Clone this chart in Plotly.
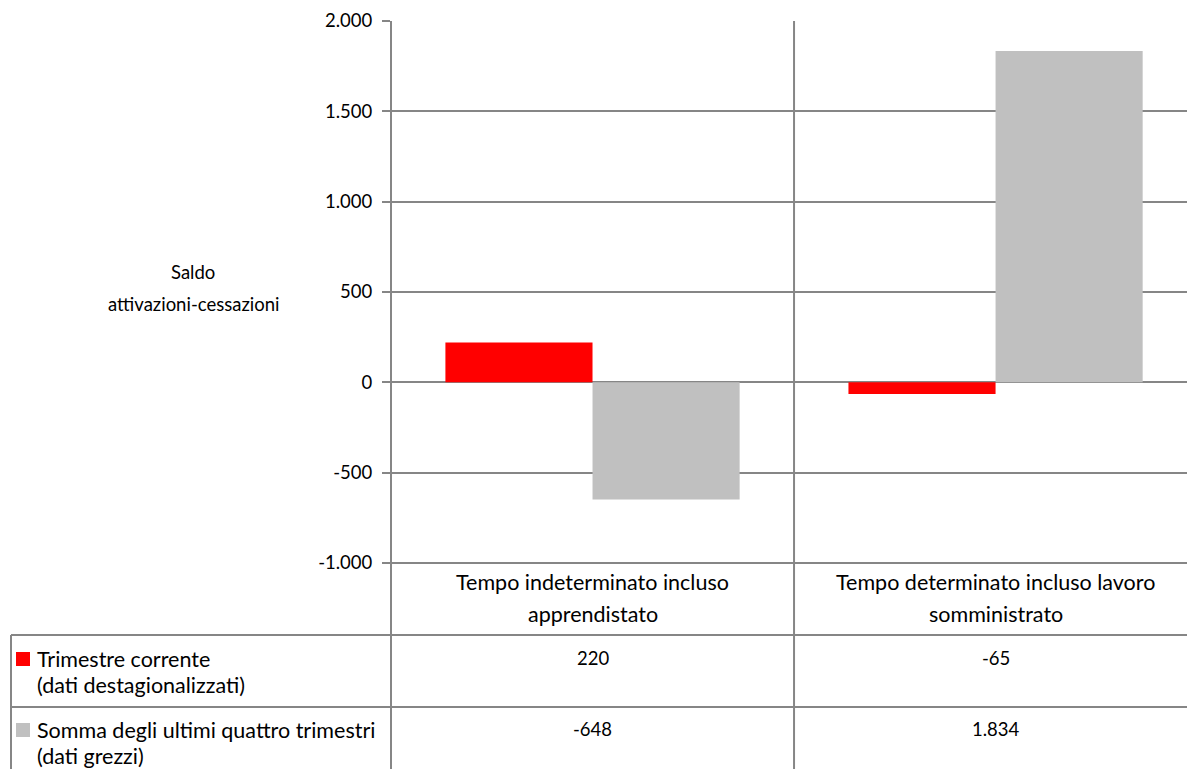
import plotly.graph_objects as go

# ---------------- data ----------------
categories = ["Tempo indeterminato incluso apprendistato",
              "Tempo determinato incluso lavoro somministrato"]
category_lines = [["Tempo indeterminato incluso", "apprendistato"],
                  ["Tempo determinato incluso lavoro", "somministrato"]]
series_names = ["Trimestre corrente", "Somma degli ultimi quattro trimestri"]
series_subtitles = ["(dati destagionalizzati)", "(dati grezzi)"]
trimestre_corrente = [220, -65]
somma_quattro_trimestri = [-648, 1834]
tick_values = [-1000, -500, 0, 500, 1000, 1500, 2000]
tick_labels = ["-1.000", "-500", "0", "500", "1.000", "1.500", "2.000"]
y_title_lines = ["Saldo", "attivazioni-cessazioni"]

# ---------------- style / layout ----------------
W, H = 1187, 769
L, R, T, B = 391, 0, 21, 206
PW, PH = W - L - R, H - T - B
GRID = "#868686"
COLORS = ["#FF0000", "#C0C0C0"]
FONT = "Lato"
FS_TEXT = 21.5
FS_NUM = 18.5
FS_TITLE = 18.5
XR = [-0.5, 1.475]


def px_x(px):
    return (px - L) / PW


def px_y(py):
    return (T + PH - py) / PH


def data_x_to_paper(x):
    return (x - XR[0]) / (XR[1] - XR[0])


fig = go.Figure()
series = [trimestre_corrente, somma_quattro_trimestri]
for name, vals, col in zip(series_names, series, COLORS):
    fig.add_trace(go.Bar(x=categories, y=vals, name=name,
                         marker=dict(color=col, line=dict(width=0)),
                         showlegend=False))

fig.update_layout(
    width=W, height=H,
    margin=dict(l=L, r=R, t=T, b=B, pad=0),
    paper_bgcolor="white", plot_bgcolor="white",
    barmode="group", bargap=0.27, bargroupgap=0,
    font=dict(family=FONT, size=FS_TEXT, color="#000000"),
    showlegend=False,
)
fig.update_xaxes(range=XR, showticklabels=False, showgrid=False,
                 zeroline=False, showline=False, ticks="")
fig.update_yaxes(range=[-1000, 2000], tickvals=tick_values, ticktext=tick_labels,
                 showgrid=True, gridcolor=GRID, gridwidth=2,
                 zeroline=True, zerolinecolor=GRID, zerolinewidth=2,
                 showline=False, ticks="outside", ticklen=8, tickwidth=2,
                 tickcolor=GRID, ticklabelstandoff=6,
                 tickfont=dict(family=FONT, size=FS_NUM, color="#000000"))

shapes = []
line = dict(color=GRID, width=2)
# vertical lines: y axis, category divider (through data table)
for xp in [0.0, data_x_to_paper(0.5)]:
    shapes.append(dict(type="line", xref="paper", yref="paper",
                       x0=xp, x1=xp, y0=1, y1=px_y(H + 5), line=line, layer="above"))
# table borders
shapes.append(dict(type="line", xref="paper", yref="paper",
                   x0=px_x(11), x1=px_x(11), y0=px_y(635), y1=px_y(H + 5), line=line))
for py in [635, 707]:
    shapes.append(dict(type="line", xref="paper", yref="paper",
                       x0=px_x(11), x1=1.01, y0=px_y(py), y1=px_y(py), line=line))
# bottom axis line of the plot
shapes.append(dict(type="line", xref="paper", yref="paper",
                   x0=px_x(383), x1=1.01, y0=0, y1=0, line=line))

# legend keys in table
row_centers = [659, 730]
for col, yc in zip(COLORS, row_centers):
    shapes.append(dict(type="rect", xref="paper", yref="paper",
                       x0=px_x(16), x1=px_x(30), y0=px_y(yc - 7), y1=px_y(yc + 7),
                       fillcolor=col, line=dict(width=0)))
fig.update_layout(shapes=shapes)

ann = []
# y-axis title
for k, txt in enumerate(y_title_lines):
    ann.append(dict(text=txt, xref="paper", yref="paper", x=px_x(193), y=px_y(272 + 32 * k),
                    xanchor="center", yanchor="middle", showarrow=False,
                    font=dict(family=FONT, size=FS_TITLE)))
# category labels
for i, lines in enumerate(category_lines):
    for k, txt in enumerate(lines):
        ann.append(dict(text=txt, xref="x", yref="paper", x=i, y=px_y(582 + 32 * k),
                        xanchor="center", yanchor="middle", showarrow=False,
                        font=dict(family=FONT, size=FS_TEXT)))
# row labels
for name, sub, yc in zip(series_names, series_subtitles, row_centers):
    ann.append(dict(text=name, xref="paper", yref="paper", x=px_x(35), y=px_y(yc),
                    xanchor="left", yanchor="middle", showarrow=False,
                    font=dict(family=FONT, size=FS_TEXT)))
    ann.append(dict(text=sub, xref="paper", yref="paper", x=px_x(35), y=px_y(yc + 26),
                    xanchor="left", yanchor="middle", showarrow=False,
                    font=dict(family=FONT, size=FS_TEXT)))


def fmt(v):
    return f"{v:,}".replace(",", ".")


# values in table
for vals, yc in zip(series, row_centers):
    for i, v in enumerate(vals):
        ann.append(dict(text=fmt(v), xref="x", yref="paper", x=i, y=px_y(yc - 1),
                        xanchor="center", yanchor="middle", showarrow=False,
                        font=dict(family=FONT, size=FS_NUM)))
fig.update_layout(annotations=ann)

fig.write_html("out.html")
